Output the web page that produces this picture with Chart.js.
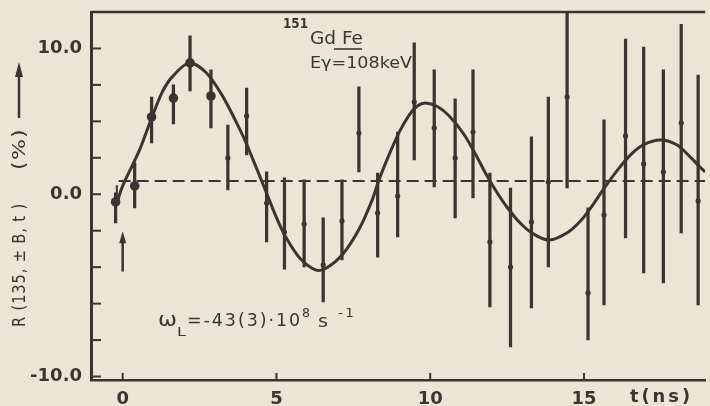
<!DOCTYPE html>
<html><head><meta charset="utf-8">
<script src="https://cdn.jsdelivr.net/npm/chart.js@4/dist/chart.umd.min.js"></script>
<style>html,body{margin:0;padding:0;background:#eae6d6;}canvas{display:block}</style>
</head><body>
<canvas id="c" width="710" height="406"></canvas>
<script>
// measured points
const times  = [-0.23,0.39,0.94,1.65,2.19,2.87,3.42,4.03,4.68,5.26,5.90,6.52,7.13,7.68,8.29,8.94,9.48,10.13,10.81,11.39,11.94,12.61,13.29,13.84,14.45,15.13,15.65,16.35,16.94,17.58,18.16,18.71];
const values = [-0.53,0.57,5.30,6.60,9.01,6.74,2.49,5.37,-0.60,-2.59,-2.04,-4.85,-1.83,4.20,-1.28,-0.12,6.33,4.55,2.49,4.27,-3.27,-4.99,-1.90,0.84,6.67,-6.77,-1.42,4.00,2.08,1.53,4.89,-0.46];
const errHigh = [0.09,2.15,6.67,7.50,10.86,8.53,4.75,7.29,1.54,1.13,0.99,-1.62,0.99,7.36,1.46,4.27,10.38,8.53,6.54,8.53,1.46,0.43,3.93,6.67,12.6,-0.93,5.10,10.65,10.10,8.53,11.65,8.18];
const errLow  = [-1.97,-0.94,3.52,4.82,7.08,4.55,0.29,2.70,-3.27,-5.13,-4.99,-7.39,-4.51,1.53,-4.31,-2.93,2.35,0.50,-1.62,-0.25,-7.73,-10.47,-7.80,-4.99,0.43,-9.99,-7.59,-3.00,-5.40,-6.08,-2.65,-7.59];
// fitted curve
const fitT = [-0.19,0,0.55,0.94,1.29,1.61,2.16,2.71,3.23,3.68,4.00,4.52,5.00,5.32,5.77,6.29,6.61,7.16,7.71,8.13,8.32,8.68,9.00,9.32,9.58,9.84,10.23,10.61,11.10,11.52,11.84,12.16,12.48,12.90,13.35,13.87,14.48,14.90,15.23,15.65,16.10,16.52,16.94,17.48,18.03,18.45,18.77,18.94];
const fitR = [-0.60,0.57,3.04,5.23,7.02,8.05,9.01,8.35,6.80,5.00,3.58,0.91,-1.60,-3.00,-4.40,-5.20,-5.08,-4.10,-2.30,-0.30,0.91,2.80,4.30,5.45,6.05,6.26,6.02,5.38,4.10,2.55,1.28,0.15,-0.84,-1.92,-2.72,-3.14,-2.60,-1.80,-0.90,0.40,1.69,2.72,3.40,3.72,3.38,2.56,1.87,1.53];
// dashed reference line
const baseT = [-0.19,-0.19,18.94];
const baseR = [-0.2,0.91,0.91];
// ticks
const xTickValues = [0,5,10,15];
const xTickLabels = ['0','5','10','15'];
const yTickValues = [10,7.5,5,2.5,0,-2.5,-5,-7.5,-10,-12.5];
const yTickLabels = ['10.0','','','','0.0','','','','','-10.0'];
// start arrow
const arrowT = 0, arrowFrom = -5.3, arrowTo = -2.6;

const ink = '#3a3530';
const FONT = "'DejaVu Sans', sans-serif";

function fitText(ctx, str, x, y, size, w, ls, weight) {
  ctx.save();
  ctx.font = (weight || 'normal') + ' ' + size + 'px ' + FONT;
  ctx.letterSpacing = (ls || 0) + 'px';
  ctx.textAlign = 'left'; ctx.textBaseline = 'middle';
  const m = ctx.measureText(str).width;
  ctx.translate(x, y);
  ctx.scale(w / m, 1);
  ctx.fillText(str, 0, 0);
  ctx.restore();
}

const deco = {
  id: 'deco',
  afterDraw(chart) {
    const {ctx, chartArea: a, scales: {x, y}} = chart;
    ctx.save();
    ctx.strokeStyle = ink; ctx.fillStyle = ink;
    // top frame line
    ctx.lineWidth = 2.5;
    ctx.beginPath(); ctx.moveTo(a.left, a.top); ctx.lineTo(a.right, a.top); ctx.stroke();
    // inward ticks
    ctx.lineWidth = 2;
    yTickValues.forEach(v => { const py = y.getPixelForValue(v); ctx.beginPath(); ctx.moveTo(a.left, py); ctx.lineTo(a.left + 10, py); ctx.stroke(); });
    xTickValues.forEach(v => { const px = x.getPixelForValue(v); ctx.beginPath(); ctx.moveTo(px, a.bottom); ctx.lineTo(px, a.bottom - 7); ctx.stroke(); });
    // start arrow
    const ax = x.getPixelForValue(arrowT), ay1 = y.getPixelForValue(arrowFrom), ay2 = y.getPixelForValue(arrowTo);
    ctx.lineWidth = 2.5;
    ctx.beginPath(); ctx.moveTo(ax, ay1); ctx.lineTo(ax, ay2 + 8); ctx.stroke();
    ctx.beginPath(); ctx.moveTo(ax, ay2 - 1); ctx.lineTo(ax - 3.5, ay2 + 11); ctx.lineTo(ax + 3.5, ay2 + 11); ctx.closePath(); ctx.fill();
    // labels
    fitText(ctx, '151', 283, 24, 14, 25, 0, 'bold');
    fitText(ctx, 'Gd Fe', 310, 40, 17, 53);
    ctx.lineWidth = 1.6;
    ctx.beginPath(); ctx.moveTo(334, 49); ctx.lineTo(362, 49); ctx.stroke();
    fitText(ctx, 'Eγ=108keV', 310, 64, 16, 102);
    fitText(ctx, 'ω', 158, 321, 20, 19);
    fitText(ctx, 'L', 177, 333, 13, 9);
    fitText(ctx, '=-43(3)·10', 187, 321, 18, 115, 2);
    fitText(ctx, '8', 302, 314, 12, 8);
    fitText(ctx, 's', 318, 322, 18, 10);
    fitText(ctx, '-1', 338, 314, 12, 18, 2);
    fitText(ctx, 't(ns)', 630, 397, 18, 63, 3, 'bold');
    // y axis title (rotated)
    ctx.save();
    ctx.translate(21, 327); ctx.rotate(-Math.PI / 2);
    fitText(ctx, 'R (135, ± B, t )', 0, 0, 17, 124, 1);
    fitText(ctx, '(%)', 157, 0, 17, 42, 1);
    ctx.lineWidth = 2.5;
    ctx.beginPath(); ctx.moveTo(209, -2); ctx.lineTo(252, -2); ctx.stroke();
    ctx.beginPath(); ctx.moveTo(265, -2); ctx.lineTo(250, -6); ctx.lineTo(250, 2); ctx.closePath(); ctx.fill();
    ctx.restore();
    ctx.restore();
  }
};

new Chart(document.getElementById('c'), {
  type: 'line',
  data: {
    datasets: [
      { type: 'line', label: 'points', order: 0,
        data: times.map((t, i) => ({x: t, y: values[i]})),
        showLine: false, pointBackgroundColor: ink, pointBorderWidth: 0,
        pointRadius: c => (c.dataIndex < 6 ? 4.8 : 2.6) },
      { type: 'line', label: 'fit', order: 1,
        data: fitT.map((t, i) => ({x: t, y: fitR[i]})),
        borderColor: ink, borderWidth: 3, pointRadius: 0, tension: 0.3 },
      { type: 'bar', label: 'errors', order: 2,
        data: times.map((t, i) => ({x: t, y: [errLow[i], errHigh[i]]})),
        backgroundColor: ink, borderWidth: 0, barThickness: 2.6, grouped: false },
      { type: 'line', label: 'base', order: 3,
        data: baseT.map((t, i) => ({x: t, y: baseR[i]})),
        borderColor: ink, borderWidth: 2, borderDash: [12, 6], pointRadius: 0, tension: 0 }
    ]
  },
  options: {
    responsive: false, animation: false, events: [],
    layout: {padding: {top: 12, right: 0, left: 0, bottom: 0}},
    plugins: {legend: {display: false}, tooltip: {enabled: false}},
    scales: {
      x: { type: 'linear', min: -1.03, max: 18.94, offset: false,
        grid: {display: false, drawTicks: false},
        border: {display: true, color: ink, width: 2.5},
        afterBuildTicks: s => { s.ticks = xTickValues.map(v => ({value: v})); },
        afterFit: s => { s.height = 26; s.paddingLeft = 0; s.paddingRight = 0; },
        ticks: {autoSkip: false, maxRotation: 0, padding: 9, color: ink, font: {family: FONT, size: 18, weight: 'bold'},
          callback: (v, i) => xTickLabels[i]} },
      y: { type: 'linear', min: -12.74, max: 12.5,
        grid: {display: false, drawTicks: false},
        border: {display: true, color: ink, width: 3},
        afterBuildTicks: s => { s.ticks = yTickValues.map(v => ({value: v})); },
        afterFit: s => { s.width = 91; s.paddingTop = 0; s.paddingBottom = 0; },
        ticks: {autoSkip: false, padding: 9, color: ink, font: {family: FONT, size: 18, weight: 'bold'},
          callback: (v, i) => yTickLabels[i]} }
    }
  },
  plugins: [deco]
});
</script>
</body></html>
